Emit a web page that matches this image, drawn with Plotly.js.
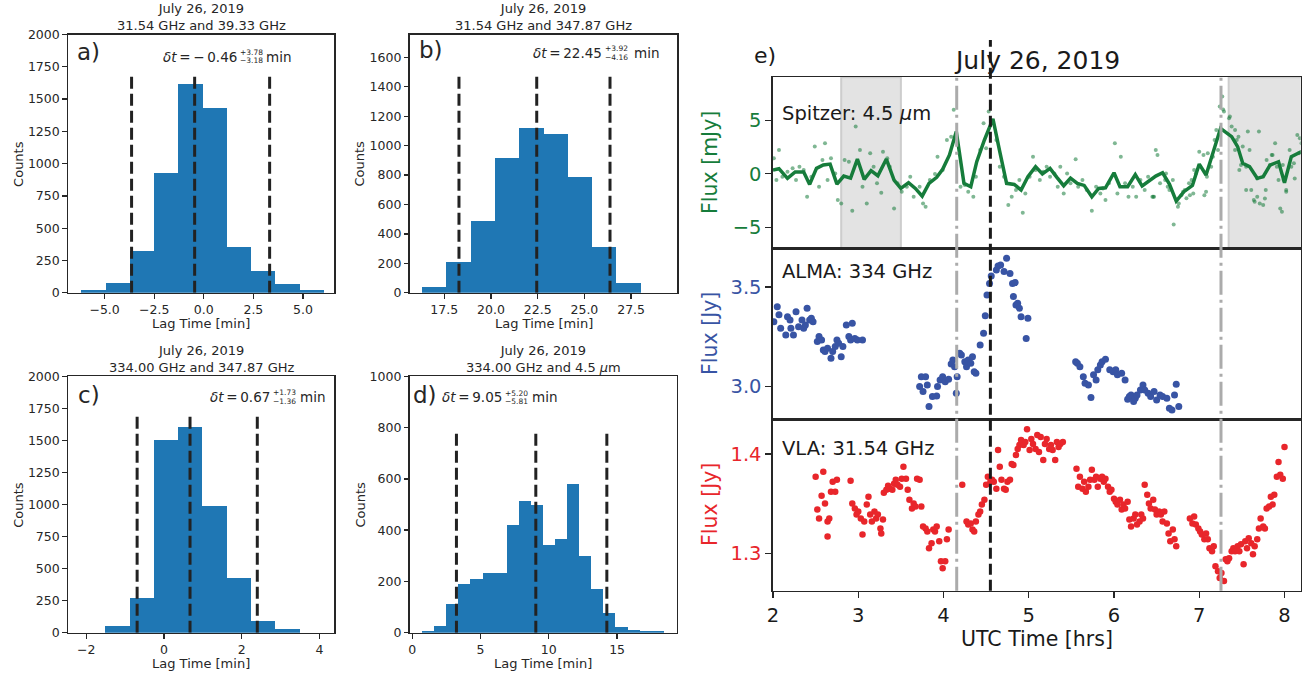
<!DOCTYPE html>
<html>
<head>
<meta charset="utf-8">
<script src="https://cdn.plot.ly/plotly-3.0.1.min.js"></script>
<style>html,body{margin:0;padding:0;background:#fff;}#chart{width:1304px;height:675px;}</style>
</head>
<body>
<div id="chart"></div>
<script>
// ---------------- DATA ----------------
// Histogram bin edges and counts (lag time in minutes)
const edgesA = [-6.17,-4.95,-3.72,-2.50,-1.28,-0.06,1.17,2.39,3.61,4.84,6.06];
const countsA = [20,77,325,925,1613,1430,353,168,67,20];
const edgesB = [16.32,17.62,18.92,20.22,21.52,22.82,24.11,25.41,26.71,28.01];
const countsB = [41,209,490,917,1117,1080,788,311,66];
const edgesC = [-1.51,-0.885,-0.26,0.365,0.99,1.615,2.24,2.865,3.49];
const countsC = [52,270,1503,1602,988,426,94,29];
const edgesD = [0.72,1.61,2.49,3.38,4.26,5.15,6.03,6.92,7.80,8.69,9.57,10.46,11.34,12.23,13.11,14.00,14.88,15.77,16.65,17.54,18.42];
const countsD = [8,26,112,191,209,233,233,420,514,498,341,365,580,299,170,78,22,10,6,6];
// delta t: [median, +err, -err]
const dtA = [-0.46, 3.78, 3.18];
const dtB = [22.45, 3.92, 4.16];
const dtC = [0.67, 1.73, 1.36];
const dtD = [9.05, 5.20, 5.81];
const lineTops = [1700, 1500, 1700, 790];
const histTitles = [
  "July 26, 2019<br>31.54 GHz and 39.33 GHz",
  "July 26, 2019<br>31.54 GHz and 347.87 GHz",
  "July 26, 2019<br>334.00 GHz and 347.87 GHz",
  "July 26, 2019<br>334.00 GHz and 4.5 <i>μ</i>m"
];
const panelLabels = ["a)","b)","c)","d)"];

// Spitzer 4.5 um (mJy): binned line
const spzLineT = [2.00,2.07,2.17,2.26,2.36,2.43,2.51,2.59,2.67,2.75,2.83,2.91,2.99,3.07,3.15,3.23,3.33,3.42,3.50,3.59,3.67,3.75,3.83,3.92,3.99,4.07,4.15,4.24,4.32,4.39,4.48,4.58,4.66,4.74,4.83,4.91,4.99,5.08,5.16,5.25,5.33,5.41,5.49,5.57,5.65,5.74,5.82,5.90,6.00,6.07,6.16,6.25,6.33,6.41,6.49,6.57,6.65,6.73,6.82,6.92,7.00,7.08,7.16,7.25,7.38,7.45,7.51,7.59,7.68,7.75,7.83,7.93,8.00,8.08,8.20];
const spzLineF = [0.34,0.47,-0.44,0.16,0.16,-1.0,0.5,0.81,0.9,-0.97,-0.22,-0.41,1.37,-0.53,0.28,-0.19,1.37,-0.59,-1.37,-0.84,-1.37,-2.09,-0.90,-0.34,0.41,1.75,3.93,-0.90,-1.22,1.12,3.15,5.12,2.06,-0.90,-1.0,-1.53,-0.28,0.66,-0.03,0.5,-0.34,-1.12,-0.41,-0.90,-1.09,-2.15,-1.37,-1.31,0.09,-1.22,-1.22,-0.09,-1.15,-0.72,-0.22,0.09,-0.97,-2.56,-1.68,-1.09,0.90,-0.12,1.97,4.24,3.46,2.53,0.97,0.66,-0.43,-0.28,0.81,1.12,-0.84,1.59,2.06];
// Spitzer individual points
const spzT = [2.01,2.07,2.04,2.11,2.17,2.23,2.27,2.31,2.36,2.40,2.45,2.49,2.54,2.58,2.61,2.64,2.68,2.73,2.76,2.80,2.84,2.89,2.93,2.97,3.02,3.05,3.10,3.14,3.18,3.22,3.27,3.29,3.34,3.37,3.42,3.46,3.51,3.57,3.61,3.65,3.72,3.76,3.79,3.84,3.90,3.93,3.99,4.04,4.09,4.12,4.20,4.25,4.29,4.35,4.38,4.43,4.47,4.50,4.53,4.58,4.62,4.66,4.71,4.76,4.80,4.85,4.89,4.93,4.96,5.01,5.05,5.08,5.13,5.17,5.21,5.25,5.30,5.34,5.37,5.41,5.45,5.49,5.55,5.58,5.63,5.68,5.74,5.79,5.84,5.87,5.90,5.94,6.01,6.04,6.08,6.13,6.17,6.22,6.26,6.31,6.36,6.40,6.46,6.49,6.54,6.60,6.65,6.70,6.76,6.79,6.83,6.88,6.94,7.00,7.05,7.09,7.14,7.18,7.24,7.27,7.29,7.35,7.38,7.42,7.46,7.51,7.55,7.57,7.61,7.64,7.68,7.71,7.75,7.78,7.83,7.86,7.91,7.95,7.99,8.02,8.06,8.11,8.17,8.20,
  6.51,6.45,6.47,6.61,6.63,6.69,6.75,6.81,6.85,6.89,6.93,6.91,6.96,7.06,7.08,7.10,7.16,7.20,7.22,7.28,7.36,7.42,7.44,7.47,7.49,7.55,7.59,7.65,7.68,7.70,7.77,7.79,7.85,7.89,7.93,7.97,7.98,8.02,8.08,8.12,8.15,8.18];
const spzF = [1.44,2.22,-0.59,-0.28,0.19,0.50,-0.59,0.66,0.34,-2.15,-0.28,2.53,-1.22,1.28,2.84,-0.59,1.44,0.03,-2.46,-2.78,1.28,1.12,-3.46,4.40,2.22,-1.22,-2.78,1.90,0.66,-0.90,-1.78,2.06,1.44,0.66,-3.24,-0.90,-1.68,-1.22,-0.28,-2.15,-1.22,-2.78,-3.09,-0.59,-0.03,1.59,0.34,3.15,3.46,5.96,-1.22,-1.06,-1.68,-2.15,-0.28,2.22,4.71,2.37,5.80,4.71,3.15,0.66,-0.28,-2.93,-2.15,-1.53,-0.59,-3.65,-1.84,-0.28,1.59,0.34,-0.59,0.19,0.66,-0.28,0.03,-1.22,0.66,-1.84,0.03,-0.90,1.34,-1.22,-0.59,-1.53,-3.46,-1.22,-1.84,-1.37,-2.46,-0.90,2.84,-1.84,1.59,-0.90,-2.15,-1.22,-2.15,-0.59,-1.53,-0.28,-2.15,2.22,-0.90,-0.59,-1.53,-4.74,-2.78,-2.00,-1.53,-0.90,0.34,2.06,1.75,-0.28,0.66,3.15,6.27,7.21,5.80,5.18,4.40,2.22,3.46,2.53,0.66,3.93,-1.53,-2.46,-0.44,-2.78,-2.93,-1.53,0.81,1.75,0.66,-3.24,-0.59,-1.53,2.22,0.97,1.90,2.84,
  1.75,-2.16,-2.15,0.03,-1.22,-0.59,-3.08,-1.68,-2.30,-2.00,-1.84,-0.59,0.03,-2.00,-1.68,1.90,1.59,4.09,2.22,6.00,5.34,4.09,3.15,0.34,0.81,-1.53,2.22,-2.62,-2.15,3.93,-2.31,1.28,1.75,2.84,-0.59,-3.56,0.81,-1.68,0.66,-0.44,3.62,3.31];

// ALMA 334 GHz (Jy)
const almaT = [2.01,2.05,2.07,2.09,2.15,2.17,2.20,2.21,2.24,2.27,2.30,2.34,2.36,2.38,2.40,2.43,2.45,2.47,
  2.52,2.54,2.57,2.59,2.61,2.64,2.68,2.70,2.73,2.75,2.77,2.80,2.82,2.86,2.89,2.91,2.93,2.96,2.99,3.05,
  3.72,3.74,3.76,3.79,3.81,3.83,3.87,3.92,3.93,3.96,3.99,4.02,4.06,4.09,4.11,4.13,4.15,4.16,4.19,4.21,4.25,4.27,4.29,4.32,4.34,4.36,4.38,4.43,4.47,4.49,4.51,4.54,4.56,4.62,4.64,4.67,4.71,4.74,4.78,4.81,4.84,4.82,4.85,4.87,4.89,4.91,4.97,4.99,
  5.55,5.57,5.60,5.64,5.66,5.70,5.73,5.76,5.79,5.81,5.84,5.86,5.90,5.95,5.99,6.02,6.04,6.09,6.13,6.16,6.18,6.20,6.23,6.25,6.27,6.31,6.34,6.36,6.40,6.43,6.47,6.50,6.54,6.57,6.62,6.65,6.68,6.71,6.73,6.76];
const almaF = [3.326,3.401,3.360,3.293,3.259,3.351,3.334,3.293,3.259,3.376,3.301,3.334,3.293,3.309,3.393,3.334,3.343,3.326,
  3.226,3.251,3.234,3.184,3.176,3.192,3.142,3.176,3.201,3.234,3.217,3.150,3.201,3.309,3.251,3.234,3.318,3.242,3.234,3.234,
  3.000,3.050,2.975,3.050,3.008,2.900,2.950,2.953,3.000,3.033,3.050,3.025,3.037,3.114,3.134,3.100,2.967,3.050,3.167,3.159,3.125,3.100,3.134,3.117,3.150,3.075,3.067,3.209,3.268,3.355,3.460,3.518,3.555,3.585,3.605,3.610,3.577,3.644,3.568,3.518,3.522,3.452,3.410,3.418,3.393,3.351,3.242,3.343,
  3.125,3.117,3.100,3.050,3.017,3.008,2.946,3.059,3.033,3.084,3.109,3.125,3.137,3.084,3.075,3.084,3.059,3.067,3.033,2.936,2.950,2.958,2.925,2.941,2.958,2.983,3.008,2.983,2.967,2.950,2.975,2.933,2.958,2.950,2.941,2.891,2.883,2.958,3.012,2.900];

// VLA 31.54 GHz (Jy)
const vlaT = [2.50,2.52,2.54,2.57,2.59,2.61,2.64,2.64,2.66,2.68,2.70,2.73,2.75,
  2.91,2.93,2.96,2.98,3.00,3.03,3.05,3.07,3.10,3.12,3.14,3.16,3.19,3.21,3.23,3.26,3.27,3.29,3.30,3.33,3.35,3.37,3.40,3.42,3.44,3.46,3.49,3.51,3.53,3.56,3.58,3.60,3.63,3.65,3.67,3.69,3.72,3.74,3.76,3.79,3.81,3.83,3.86,3.88,3.90,3.92,3.95,3.97,3.99,4.02,4.04,4.06,
  4.22,4.27,4.29,4.32,4.34,4.36,4.38,4.41,4.43,4.45,4.48,4.50,4.52,4.55,4.57,4.59,4.62,4.64,4.66,4.68,4.71,4.73,4.75,4.78,4.80,4.82,4.85,4.87,4.89,4.91,4.94,4.96,4.98,5.01,5.03,5.05,5.08,5.10,5.12,5.14,5.17,5.19,5.21,5.24,5.26,5.28,5.31,5.33,5.35,5.37,5.40,
  5.56,5.58,5.60,5.63,5.65,5.67,5.70,5.72,5.74,5.77,5.79,5.81,5.84,5.86,5.88,5.90,5.93,5.95,5.97,6.00,6.02,6.04,6.07,6.09,6.11,6.13,6.16,6.18,6.20,6.23,6.25,6.27,6.30,6.32,6.34,6.36,6.39,6.41,6.43,6.46,6.48,6.50,6.53,6.55,6.57,6.59,6.62,6.64,6.66,6.69,6.71,6.73,
  6.89,6.92,6.94,6.96,6.99,7.01,7.03,7.06,7.08,7.10,7.12,7.15,7.17,7.19,7.22,7.24,7.26,7.29,7.31,7.33,7.35,7.38,7.40,7.42,7.45,7.47,7.49,7.52,7.54,7.56,7.58,7.61,7.63,7.65,7.68,7.70,7.72,7.75,7.77,7.79,7.82,7.84,7.86,7.88,7.91,7.93,7.95,7.98,8.00];
const vlaF = [1.377,1.344,1.335,1.358,1.382,1.350,1.332,1.317,1.335,1.362,1.372,1.362,1.374,
  1.373,1.350,1.345,1.339,1.342,1.335,1.319,1.332,1.349,1.357,1.339,1.332,1.342,1.335,1.339,1.325,1.320,1.334,1.361,1.364,1.368,1.365,1.364,1.370,1.374,1.369,1.367,1.375,1.387,1.375,1.364,1.354,1.345,1.350,1.347,1.375,1.374,1.347,1.327,1.325,1.322,1.305,1.310,1.324,1.322,1.327,1.312,1.292,1.285,1.292,1.314,1.324,
  1.369,1.332,1.329,1.330,1.324,1.322,1.332,1.339,1.342,1.349,1.354,1.369,1.377,1.372,1.374,1.372,1.365,1.404,1.387,1.374,1.365,1.364,1.372,1.374,1.390,1.389,1.399,1.405,1.409,1.414,1.409,1.412,1.425,1.404,1.415,1.410,1.405,1.419,1.402,1.417,1.394,1.410,1.415,1.405,1.409,1.404,1.394,1.412,1.407,1.410,1.412,
  1.385,1.367,1.377,1.365,1.372,1.362,1.367,1.374,1.384,1.374,1.377,1.367,1.375,1.377,1.372,1.375,1.367,1.362,1.364,1.355,1.352,1.349,1.354,1.344,1.349,1.345,1.352,1.334,1.327,1.335,1.339,1.329,1.332,1.339,1.335,1.369,1.359,1.350,1.345,1.354,1.344,1.339,1.342,1.339,1.332,1.342,1.330,1.320,1.312,1.324,1.314,1.307,
  1.335,1.330,1.337,1.329,1.325,1.322,1.319,1.314,1.320,1.314,1.305,1.302,1.307,1.287,1.282,1.275,1.280,1.272,1.294,1.292,1.295,1.302,1.305,1.302,1.307,1.302,1.309,1.289,1.312,1.305,1.315,1.310,1.299,1.307,1.314,1.325,1.335,1.327,1.325,1.345,1.347,1.357,1.349,1.359,1.377,1.392,1.379,1.375,1.407];

// Event markers (UTC hours) and Spitzer bad-data windows
const flarePeak = 4.55;
const dashDotTimes = [4.155, 7.255];
const greyWindows = [[2.80, 3.50], [7.345, 8.30]];

// ---------------- LAYOUT HELPERS ----------------
const W = 1304, H = 675;
const px = v => v / W;
const py = v => 1 - v / H;
const FONT = "DejaVu Sans, sans-serif";
const INK = "#262626";
const GREEN = "#167c3b", BLUE = "#3854a4", RED = "#e8262b";

// panel boxes in pixels: [left, right, top, bottom]
const boxes = {
  a: [68.3, 334.3, 34.5, 292.7],
  b: [410, 677.3, 34.5, 292.7],
  c: [68.3, 334.3, 376.3, 632.7],
  d: [410, 676.5, 376.3, 632.7],
  e1: [773, 1300.7, 77.3, 248.7],
  e2: [773, 1300.7, 248.7, 419.7],
  e3: [773, 1300.7, 419.7, 590.7]
};
const xdom = b => [px(b[0]), px(b[1])];
const ydom = b => [py(b[3]), py(b[2])];

function baseAxis(extra) {
  return Object.assign({
    showline: true, linecolor: INK, linewidth: 1.6, mirror: true,
    ticks: "outside", ticklen: 4.5, tickwidth: 1.3, tickcolor: INK,
    showgrid: false, zeroline: false,
    tickfont: {family: FONT, size: 12.5, color: INK}
  }, extra);
}

function ann(text, x, y, opt) {
  return Object.assign({
    text: text, xref: "paper", yref: "paper", x: px(x), y: py(y),
    showarrow: false, xanchor: "center", yanchor: "middle", borderpad: 0,
    font: {family: FONT, size: 13, color: INK}
  }, opt || {});
}

const traces = [];
const annotations = [];
const shapes = [];

// ---------------- HISTOGRAMS ----------------
const hists = [
  {key: "a", xa: "x", ya: "y", edges: edgesA, counts: countsA, dt: dtA},
  {key: "b", xa: "x2", ya: "y2", edges: edgesB, counts: countsB, dt: dtB},
  {key: "c", xa: "x3", ya: "y3", edges: edgesC, counts: countsC, dt: dtC},
  {key: "d", xa: "x4", ya: "y4", edges: edgesD, counts: countsD, dt: dtD}
];
hists.forEach((h, i) => {
  const centers = [], widths = [];
  for (let k = 0; k < h.counts.length; k++) {
    centers.push((h.edges[k] + h.edges[k + 1]) / 2);
    widths.push(h.edges[k + 1] - h.edges[k]);
  }
  traces.push({type: "bar", x: centers, y: h.counts, width: widths,
    marker: {color: "#1f77b4", line: {width: 0}}, xaxis: h.xa, yaxis: h.ya, hoverinfo: "skip"});
  const med = h.dt[0];
  [med - h.dt[2], med, med + h.dt[1]].forEach(v => {
    traces.push({type: "scatter", mode: "lines", x: [v, v], y: [0, lineTops[i]],
      line: {color: "#222222", width: 3, dash: "12px,5px"}, xaxis: h.xa, yaxis: h.ya, hoverinfo: "skip"});
  });
  const b = boxes[h.key];
  const cx = (b[0] + b[1]) / 2;
  annotations.push(ann(histTitles[i], cx, b[2] - 17, {font: {family: FONT, size: 13, color: INK}}));
  annotations.push(ann("Counts", b[0] - 50, (b[2] + b[3]) / 2, {textangle: -90}));
  annotations.push(ann("Lag Time [min]", cx, b[3] + 31));
});

// panel letters
annotations.push(ann("a)", 76, 51.5, {xanchor: "left", font: {family: FONT, size: 23, color: INK}}));
annotations.push(ann("b)", 418, 50, {xanchor: "left", font: {family: FONT, size: 23, color: INK}}));
annotations.push(ann("c)", 77, 395, {xanchor: "left", font: {family: FONT, size: 23, color: INK}}));
annotations.push(ann("d)", 412, 395, {xanchor: "left", font: {family: FONT, size: 23, color: INK}}));

// delta t labels (main text, stacked scripts, unit)
function fmtSigned(v) { return (v < 0 ? "−\u2009" : "") + Math.abs(v).toFixed(2); }
const dtPos = [
  {r: 238, y: 56.5, m: 265},
  {r: 603, y: 53, m: 633},
  {r: 271, y: 396.7, m: 298.5},
  {r: 503, y: 397.3, m: 531}
];
hists.forEach((h, i) => {
  const p = dtPos[i];
  annotations.push(ann("<i>δt</i>\u2009=\u2009" + fmtSigned(h.dt[0]), p.r, p.y, {xanchor: "right", font: {family: FONT, size: 13.5, color: INK}}));
  annotations.push(ann("+" + h.dt[1].toFixed(2), p.r + 0.5, p.y - 4, {xanchor: "left", font: {family: FONT, size: 7.5, color: INK}}));
  annotations.push(ann("−" + h.dt[2].toFixed(2), p.r + 0.5, p.y + 4.5, {xanchor: "left", font: {family: FONT, size: 7.5, color: INK}}));
  annotations.push(ann("min", p.m, p.y, {xanchor: "left", font: {family: FONT, size: 13.5, color: INK}}));
});

// ---------------- PANEL e ----------------
traces.push({type: "scatter", mode: "markers", x: spzT, y: spzF, xaxis: "x5", yaxis: "y5",
  marker: {color: "rgba(22,124,59,0.55)", size: 4}, hoverinfo: "skip"});
traces.push({type: "scatter", mode: "lines", x: spzLineT, y: spzLineF, xaxis: "x5", yaxis: "y5",
  line: {color: GREEN, width: 3.5}, hoverinfo: "skip"});
traces.push({type: "scatter", mode: "markers", x: almaT, y: almaF, xaxis: "x6", yaxis: "y6",
  marker: {color: BLUE, size: 7}, hoverinfo: "skip"});
traces.push({type: "scatter", mode: "markers", x: vlaT, y: vlaF, xaxis: "x7", yaxis: "y7",
  marker: {color: RED, size: 6.5}, hoverinfo: "skip"});

greyWindows.forEach(w => {
  shapes.push({type: "rect", xref: "x5", yref: "y5 domain", x0: w[0], x1: w[1], y0: 0, y1: 1,
    fillcolor: "#e3e3e3", line: {color: "#cdcdcd", width: 2}, layer: "below"});
});
dashDotTimes.forEach(t => {
  shapes.push({type: "line", xref: "x7", yref: "paper", x0: t, x1: t, y0: py(590.7), y1: py(77.3),
    line: {color: "#ababab", width: 3, dash: "24px,5px,3px,5px"}, layer: "above"});
});
shapes.push({type: "line", xref: "x7", yref: "paper", x0: flarePeak, x1: flarePeak, y0: py(590.7), y1: py(40),
  line: {color: "#1a1a1a", width: 3, dash: "11px,5px"}, layer: "above"});

const eFont = (c) => ({family: FONT, size: 19.5, color: c});
annotations.push(ann("July 26, 2019", 1037, 60, {font: {family: FONT, size: 25, color: "#1a1a1a"}}));
annotations.push(ann("e)", 753, 55, {xanchor: "left", font: {family: FONT, size: 22, color: "#1a1a1a"}}));
annotations.push(ann("Spitzer: 4.5 <i>μ</i>m", 781, 113, {xanchor: "left", font: eFont("#1a1a1a")}));
annotations.push(ann("ALMA: 334 GHz", 781, 271.5, {xanchor: "left", font: eFont("#1a1a1a")}));
annotations.push(ann("VLA: 31.54 GHz", 781, 448.5, {xanchor: "left", font: eFont("#1a1a1a")}));
annotations.push(ann("Flux [mJy]", 710, 163, {textangle: -90, font: {family: FONT, size: 20.5, color: GREEN}}));
annotations.push(ann("Flux [Jy]", 710, 334, {textangle: -90, font: {family: FONT, size: 20.5, color: BLUE}}));
annotations.push(ann("Flux [Jy]", 710, 505, {textangle: -90, font: {family: FONT, size: 20.5, color: RED}}));
annotations.push(ann("UTC Time [hrs]", 1037, 639, {font: {family: FONT, size: 20.5, color: "#1a1a1a"}}));

const eRange = [2, 8.19];
const eTick = (c) => ({family: FONT, size: 19.5, color: c});

const layout = {
  width: W, height: H,
  margin: {l: 0, r: 0, t: 0, b: 0},
  paper_bgcolor: "#ffffff", plot_bgcolor: "#ffffff",
  showlegend: false, hovermode: false, bargap: 0,
  font: {family: FONT, color: INK},
  xaxis: baseAxis({domain: xdom(boxes.a), anchor: "y", range: [-6.83, 6.58], tickvals: [-5, -2.5, 0, 2.5, 5], tickformat: ".1f"}),
  yaxis: baseAxis({domain: ydom(boxes.a), anchor: "x", range: [0, 2000], dtick: 250}),
  xaxis2: baseAxis({domain: xdom(boxes.b), anchor: "y2", range: [15.67, 29.97], tickvals: [17.5, 20, 22.5, 25, 27.5], tickformat: ".1f"}),
  yaxis2: baseAxis({domain: ydom(boxes.b), anchor: "x2", range: [0, 1755], tickvals: [0, 200, 400, 600, 800, 1000, 1200, 1400, 1600]}),
  xaxis3: baseAxis({domain: xdom(boxes.c), anchor: "y3", range: [-2.46, 4.38], dtick: 2}),
  yaxis3: baseAxis({domain: ydom(boxes.c), anchor: "x3", range: [0, 2000], dtick: 250}),
  xaxis4: baseAxis({domain: xdom(boxes.d), anchor: "y4", range: [-0.16, 19.35], dtick: 5}),
  yaxis4: baseAxis({domain: ydom(boxes.d), anchor: "x4", range: [0, 1000], dtick: 200}),
  xaxis5: baseAxis({domain: xdom(boxes.e1), anchor: "y5", range: eRange, showticklabels: false, ticks: ""}),
  yaxis5: baseAxis({domain: ydom(boxes.e1), anchor: "x5", range: [-7, 9], tickvals: [-5, 0, 5], tickfont: eTick(GREEN), ticklen: 6}),
  xaxis6: baseAxis({domain: xdom(boxes.e2), anchor: "y6", range: eRange, showticklabels: false, ticks: ""}),
  yaxis6: baseAxis({domain: ydom(boxes.e2), anchor: "x6", range: [2.834, 3.692], tickvals: [3.0, 3.5], tickformat: ".1f", tickfont: eTick(BLUE), ticklen: 6}),
  xaxis7: baseAxis({domain: xdom(boxes.e3), anchor: "y7", range: eRange, dtick: 1, tickfont: eTick("#1a1a1a"), ticklen: 6}),
  yaxis7: baseAxis({domain: ydom(boxes.e3), anchor: "x7", range: [1.2623, 1.4345], tickvals: [1.3, 1.4], tickformat: ".1f", tickfont: eTick(RED), ticklen: 6}),
  annotations: annotations,
  shapes: shapes
};

Plotly.newPlot("chart", traces, layout, {staticPlot: true, displayModeBar: false});
</script>
</body>
</html>
